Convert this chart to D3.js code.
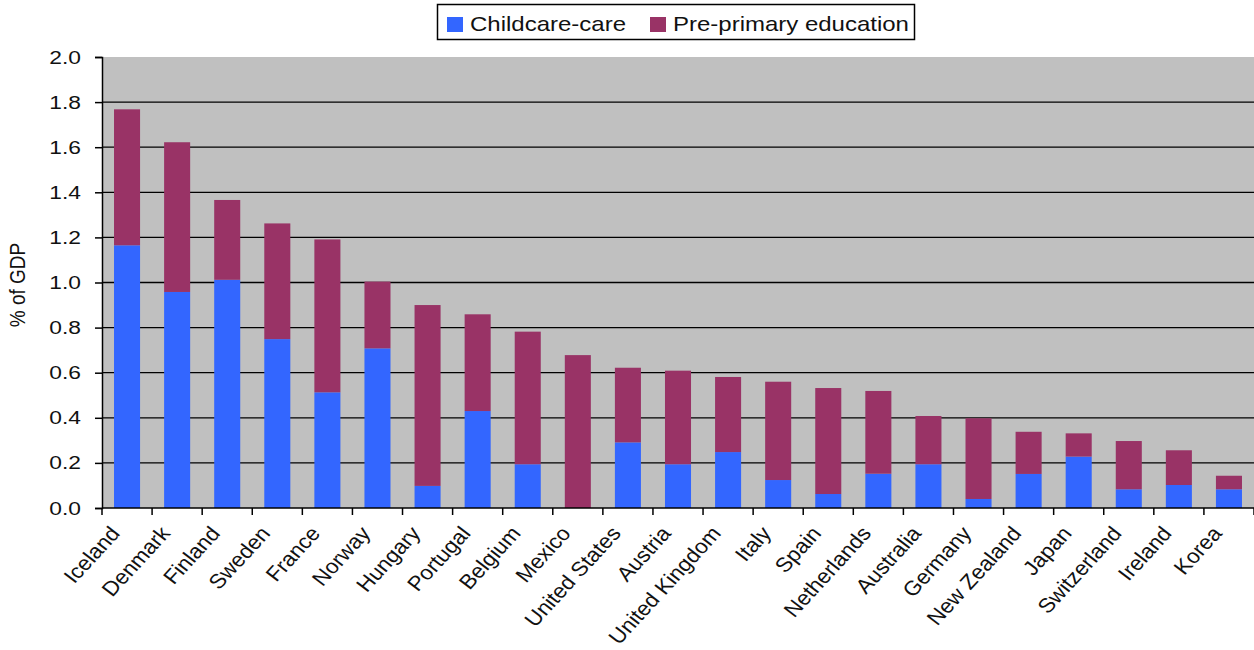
<!DOCTYPE html>
<html>
<head>
<meta charset="utf-8">
<script src="https://cdn.jsdelivr.net/npm/d3@7"></script>
<style>
  body { margin: 0; background: #fff; }
  text { font-family: "Liberation Sans", Arial, sans-serif; fill: #111; }
</style>
</head>
<body>
<div class="chart"></div>
<script>
// data (% of GDP)
var countries = ["Iceland", "Denmark", "Finland", "Sweden", "France", "Norway", "Hungary",
    "Portugal", "Belgium", "Mexico", "United States", "Austria", "United Kingdom", "Italy",
    "Spain", "Netherlands", "Australia", "Germany", "New Zealand", "Japan", "Switzerland",
    "Ireland", "Korea"];
var childcare = [1.165, 0.958, 1.012, 0.749, 0.513, 0.708, 0.098, 0.43, 0.194, 0, 0.291, 0.194,
    0.248, 0.124, 0.062, 0.152, 0.194, 0.04, 0.151, 0.228, 0.083, 0.102, 0.083];
var preprimary = [0.603, 0.664, 0.354, 0.513, 0.678, 0.296, 0.802, 0.429, 0.588, 0.678, 0.331,
    0.415, 0.333, 0.436, 0.47, 0.367, 0.214, 0.358, 0.187, 0.103, 0.214, 0.154, 0.06];
var seriesNames = ["Childcare-care", "Pre-primary education"];
var seriesColors = ["#3366ff", "#993366"];
var yTicks = [0, 0.2, 0.4, 0.6, 0.8, 1.0, 1.2, 1.4, 1.6, 1.8, 2.0];

var margin = ({top: 57, right: 0, bottom: 142, left: 102});
var width = 1254 - margin.left - margin.right,
    height = 650 - margin.top - margin.bottom;
var sx = 1.2; // the picture's text is a bit wider than plain Arial

var rows = countries.map(function(c, i) {
    return {country: c, childcare: childcare[i], preprimary: preprimary[i]};
});
var stacked = d3.stack().keys(["childcare", "preprimary"])(rows);

var root = d3.select(".chart").append("svg")
    .attr("width", 1254)
    .attr("height", 650);

var svg = root.append("g")
    .attr("transform", "translate(" + margin.left + "," + margin.top + ")");

const xScale = d3.scaleBand()
    .domain(countries)
    .range([0, width])
    .paddingInner(0.48)
    .paddingOuter(0.24);

const yScale = d3.scaleLinear()
    .domain([0, 2])
    .range([height, 0]);

// plot area
svg.append("rect")
    .attr("width", width)
    .attr("height", height)
    .attr("fill", "#c0c0c0");

// gridlines
svg.append("g")
    .selectAll("line")
    .data(yTicks.filter(d => d > 0 && d < 2))
    .join("line")
    .attr("x1", 0)
    .attr("x2", width)
    .attr("y1", d => yScale(d))
    .attr("y2", d => yScale(d))
    .attr("stroke", "#000")
    .attr("stroke-width", 1.3);

// bars
svg.selectAll(".layer")
    .data(stacked)
    .join("g")
    .attr("class", "layer")
    .attr("fill", (d, i) => seriesColors[i])
    .selectAll("rect")
    .data(d => d)
    .join("rect")
    .attr("x", d => xScale(d.data.country))
    .attr("width", xScale.bandwidth())
    .attr("y", d => yScale(d[1]))
    .attr("height", d => yScale(d[0]) - yScale(d[1]));

// y axis
const yAxis = d3.axisLeft(yScale)
    .tickValues(yTicks)
    .tickFormat(d3.format(".1f"))
    .tickSize(7)
    .tickPadding(14);

var yg = svg.append("g")
    .attr("class", "axis y-axis")
    .call(yAxis);
yg.select(".domain").attr("stroke-width", 1.5);
yg.selectAll(".tick line").attr("stroke-width", 1.5);
yg.selectAll(".tick text")
    .attr("font-size", 19)
    .attr("fill", "#222")
    .each(function() {
        var t = d3.select(this);
        t.attr("transform", "translate(" + t.attr("x") + ",0) scale(" + sx + ",1) translate(" + (-t.attr("x")) + ",0)");
    });

// x axis: ticks on category boundaries
var bounds = d3.range(countries.length + 1).map(i => i * width / countries.length);
var xg = svg.append("g")
    .attr("class", "axis x-axis")
    .attr("transform", `translate(0, ${height})`);
xg.append("line")
    .attr("x1", 0).attr("x2", width)
    .attr("stroke", "#000").attr("stroke-width", 1.5);
xg.selectAll(".xtick")
    .data(bounds)
    .join("line")
    .attr("class", "xtick")
    .attr("x1", d => d).attr("x2", d => d)
    .attr("y1", 0).attr("y2", 7)
    .attr("stroke", "#000").attr("stroke-width", 1.5);
xg.selectAll(".xlabel")
    .data(countries)
    .join("text")
    .attr("class", "xlabel")
    .attr("font-size", 20.5)
    .attr("text-anchor", "end")
    .attr("fill", "#222")
    .attr("transform", d => "translate(" + (xScale(d) + xScale.bandwidth() / 2 - 6) + ",26) scale(1.1,1) rotate(-50)")
    .text(d => d);

// y title
root.append("text")
    .attr("transform", "translate(25,285) scale(" + sx + ",1) rotate(-90)")
    .attr("text-anchor", "middle")
    .attr("font-size", 19)
    .attr("fill", "#222")
    .text("% of GDP");

// legend
var legend = root.append("g");
legend.append("rect")
    .attr("x", 437.5).attr("y", 4.5)
    .attr("width", 477).attr("height", 35)
    .attr("fill", "#fff")
    .attr("stroke", "#000")
    .attr("stroke-width", 1.5);
var legendX = [447, 650];
seriesNames.forEach(function(name, i) {
    legend.append("rect")
        .attr("x", legendX[i]).attr("y", 17)
        .attr("width", 16).attr("height", 15)
        .attr("fill", seriesColors[i]);
    legend.append("text")
        .attr("transform", "translate(" + (legendX[i] + 23) + ",31) scale(" + sx + ",1)")
        .attr("font-size", 20)
        .attr("fill", "#222")
        .text(name);
});
</script>
</body>
</html>
